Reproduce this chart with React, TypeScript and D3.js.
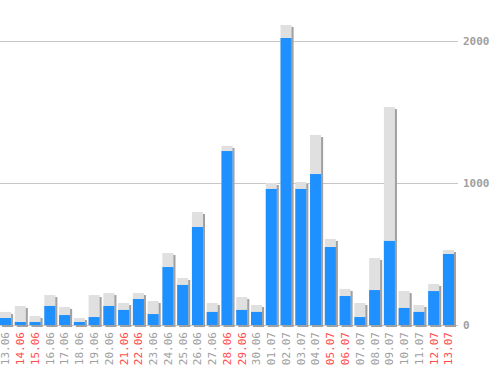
import React from "react";
import * as d3 from "d3";

const dates = ["13.06","14.06","15.06","16.06","17.06","18.06","19.06","20.06","21.06","22.06","23.06","24.06","25.06","26.06","27.06","28.06","29.06","30.06","01.07","02.07","03.07","04.07","05.07","06.07","07.07","08.07","09.07","10.07","11.07","12.07","13.07"];
const totals = [92,134,63,211,127,49,211,225,155,225,169,507,331,796,155,1261,197,141,1000,2113,1007,1338,606,254,155,472,1535,239,141,289,528];
const blues = [49,21,21,134,70,21,56,134,106,183,77,408,282,690,92,1225,106,92,958,2021,958,1063,549,204,56,246,592,120,92,239,500];
const weekend = ["14.06","15.06","21.06","22.06","28.06","29.06","05.07","06.07","12.07","13.07"];
const yTicks = [0, 1000, 2000];

export default function App() {
  const W = 498, H = 370;
  const x = d3.scaleBand<string>().domain(dates).range([0, 454]).paddingInner(0.25).paddingOuter(0);
  const y = d3.scaleLinear().domain([0, 2000]).range([325, 41]);
  const bw = x.bandwidth();
  const font = "'DejaVu Sans Mono', monospace";
  return (
    <svg width={W} height={H} style={{ position: "absolute", left: 0, top: 0, background: "#fff" }}>
      {yTicks.map((t) => (
        <g key={t}>
          <line x1={0} x2={458} y1={y(t) + 0.5} y2={y(t) + 0.5} stroke="#c6c6c6" strokeWidth={1} />
          <text x={463} y={y(t)} dy="0.35em" fontFamily={font} fontSize={11} fontWeight="bold" fill="#a0a0a0">{t}</text>
        </g>
      ))}
      {dates.map((d, i) => {
        const x0 = x(d)!;
        return (
          <g key={d}>
            <rect x={x0 + 2} y={y(totals[i]) + 2} width={bw} height={y(0) - y(totals[i])} fill="#a0a0a0" />
            <rect x={x0} y={y(totals[i])} width={bw} height={y(0) - y(totals[i])} fill="#e0e0e0" />
            <rect x={x0} y={y(blues[i])} width={bw} height={y(0) - y(blues[i])} fill="#1e90ff" />
            <text
              transform={`translate(${x0 + bw / 2},332) rotate(-90)`}
              dy="0.35em"
              textAnchor="end"
              fontFamily={font}
              fontSize={11}
              fill={weekend.includes(d) ? "#ff4d4d" : "#a0a0a0"}
            >{d}</text>
          </g>
        );
      })}
    </svg>
  );
}
